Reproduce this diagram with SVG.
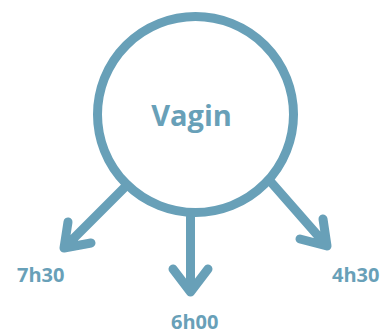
<svg xmlns="http://www.w3.org/2000/svg" width="381" height="335" viewBox="0 0 381 335">
<style>
.c{fill:none;stroke:#68a0b8;stroke-width:9}
.a{fill:none;stroke:#68a0b8;stroke-width:9;stroke-linecap:round;stroke-linejoin:round}
.t{font-family:"Open Sans","Liberation Sans",sans-serif;font-weight:bold;fill:#68a0b8}
</style>
<rect width="381" height="335" fill="#ffffff"/>
<g id="connectors">
<path class="a" d="M127,185 L64,248 M68,222 L64,248 L91,243"/>
<path class="a" d="M190.5,217 L190.5,292 M173,269 L190.5,292 L208,269"/>
<path class="a" d="M270,181 L327,246 M323,219 L327,246 L300,239"/>
</g>
<g id="vagin">
<circle class="c" cx="195.5" cy="114.5" r="98"/>
<text class="t" x="191.5" y="126" font-size="29" text-anchor="middle">Vagin</text>
</g>
<g id="t730"><text class="t" x="17" y="282" font-size="20">7h30</text></g>
<g id="t600"><text class="t" x="171" y="329" font-size="20">6h00</text></g>
<g id="t430"><text class="t" x="332" y="282" font-size="20">4h30</text></g>
</svg>
